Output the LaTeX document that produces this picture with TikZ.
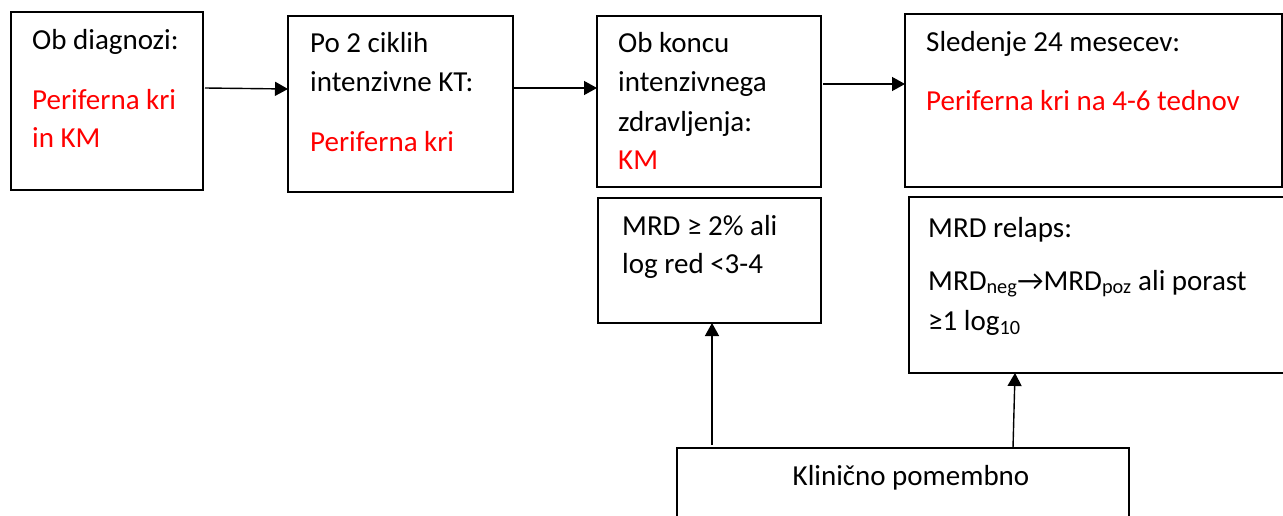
\documentclass[tikz,border=0pt]{standalone}
\usepackage{fontspec}
\setmainfont{Carlito}
\usetikzlibrary{arrows.meta}
\begin{document}
\begin{tikzpicture}[x=1pt,y=-1pt,
  box/.style={draw=black,line width=1.5pt,fill=white,inner sep=0pt,outer sep=0pt},
  txt/.style={inner sep=0pt,anchor=base west,font=\fontsize{29}{35}\selectfont,text=black},
  red/.style={txt,text={rgb,255:red,255;green,0;blue,0}},
  arr/.style={line width=1.4pt,-{Triangle[length=13pt,width=14pt]}}]
\useasboundingbox (0,0) rectangle (1283,516);
\clip (0,0) rectangle (1283,516);
\fill[white] (0,0) rectangle (1283,516);

% top row: stages of monitoring
\node[box,minimum width=192pt,minimum height=178pt] (b1) at (107,101) {};
\node[box,minimum width=225pt,minimum height=176pt] (b2) at (400.5,104) {};
\node[box,minimum width=224pt,minimum height=171pt] (b3) at (709,101.5) {};
\node[box,minimum width=377pt,minimum height=173pt] (b4) at (1093.5,100.5) {};

% second row: criteria
\node[box,minimum width=223pt,minimum height=125pt] (b5) at (709.5,260.5) {};
\node[box,minimum width=378pt,minimum height=176pt] (b6) at (1098,285) {};

% bottom box
\node[box,minimum width=452pt,minimum height=152pt] (b7) at (903,524) {};

% texts
\node[txt] (t1a) at (32,50) {Ob diagnozi:};
\node[red] (t1b) at (32,110) {Periferna kri};
\node[red] (t1c) at (32,148) {in KM};

\node[txt] (t2a) at (310,53) {Po 2 ciklih};
\node[txt] (t2b) at (310,92) {intenzivne KT:};
\node[red] (t2c) at (310,152) {Periferna kri};

\node[txt] (t3a) at (618,53) {Ob koncu};
\node[txt] (t3b) at (618,92) {intenzivnega};
\node[txt] (t3c) at (618,132) {zdravljenja:};
\node[red] (t3d) at (618,170) {KM};

\node[txt] (t4a) at (926,52) {Sledenje 24 mesecev:};
\node[red] (t4b) at (926,111) {Periferna kri na 4-6 tednov};

\node[txt] (t5a) at (622,235) {MRD ≥ 2\% ali};
\node[txt] (t5b) at (622,273) {log red <3-4};

\node[txt] (t6a) at (928,237) {MRD relaps:};
\node[txt] (t6b) at (928,290) {MRD\textsubscript{neg}→MRD\textsubscript{poz} ali porast};
\node[txt] (t6c) at (928,330) {≥1 log\textsubscript{10}};

\node[txt,anchor=base] (t7) at (911,485) {Klinično pomembno};

% connectors
\draw[arr] ([shift={(2pt,13pt)}]b1.east) -- ([yshift=15pt]b2.west);
\draw[arr] ([yshift=16pt]b2.east) -- ([yshift=13.5pt]b3.west);
\draw[arr] ([shift={(2pt,17.5pt)}]b3.east) -- ([yshift=16.5pt]b4.west);
\draw[arr] ([shift={(-191pt,3pt)}]b7.north) -- ([xshift=2.5pt]b5.south);
\draw[arr] ([xshift=110pt]b7.north) -- ([xshift=-83pt]b6.south);
\end{tikzpicture}
\end{document}
